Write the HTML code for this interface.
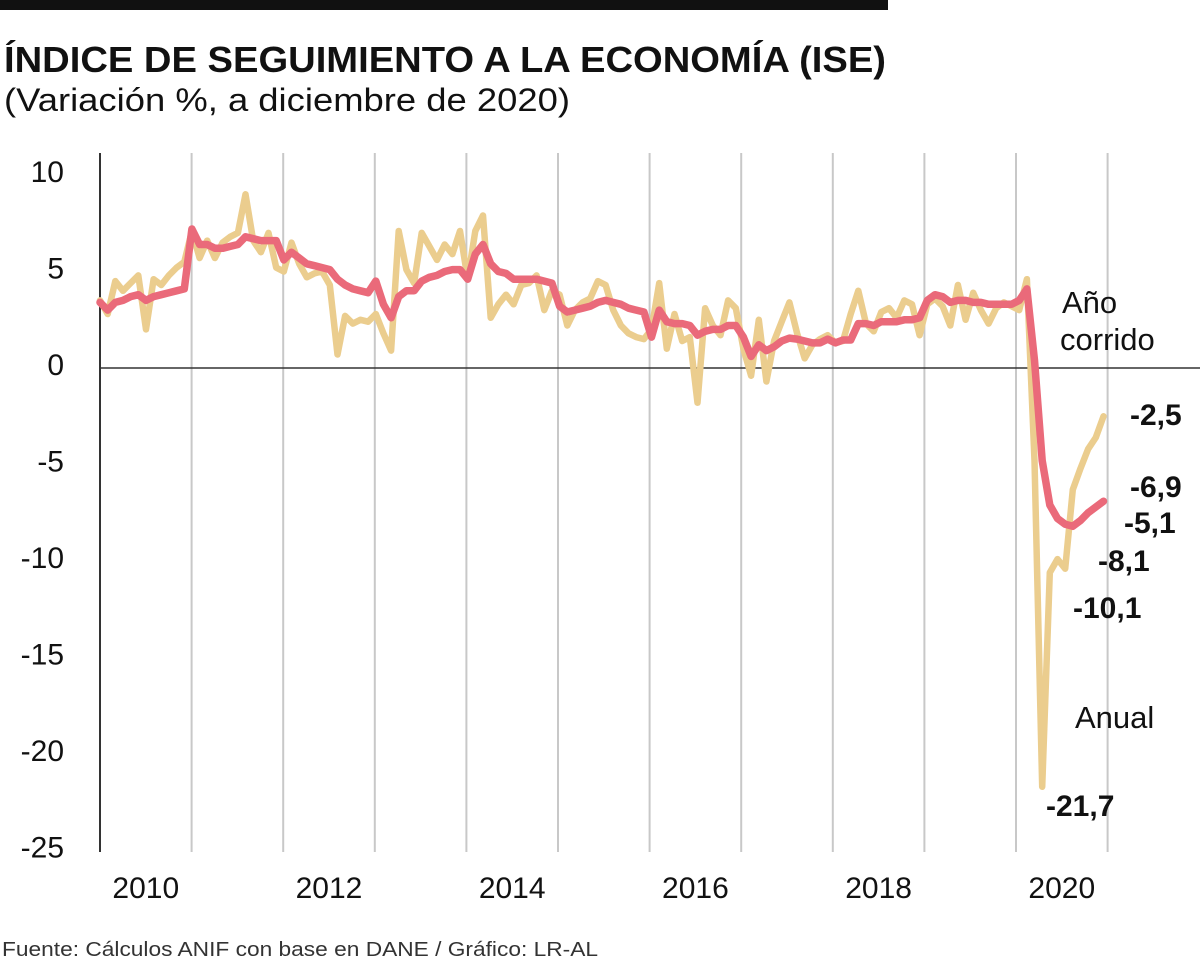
<!DOCTYPE html>
<html><head><meta charset="utf-8">
<style>
body{margin:0;background:#fff;width:1200px;height:965px;overflow:hidden;font-family:"Liberation Sans",sans-serif;}
</style></head>
<body>
<svg width="1200" height="965" viewBox="0 0 1200 965" xmlns="http://www.w3.org/2000/svg">
<rect x="0" y="0" width="888" height="10" fill="#111"/>
<text x="4" y="72" font-size="36" font-weight="bold" fill="#111" textLength="882" lengthAdjust="spacingAndGlyphs">ÍNDICE DE SEGUIMIENTO A LA ECONOMÍA (ISE)</text>
<text x="4" y="111" font-size="32" fill="#111" textLength="566" lengthAdjust="spacingAndGlyphs">(Variación %, a diciembre de 2020)</text>
<g id="grid"></g>
<g id="yticks"></g>
<g id="xticks"></g>
<g id="series"></g>
<g font-size="31" fill="#111">
<text x="1062" y="313">Año</text>
<text x="1060" y="350">corrido</text>
<text x="1075" y="728">Anual</text>
</g>
<g font-size="30" font-weight="bold" fill="#111">
<text x="1130" y="425">-2,5</text>
<text x="1130" y="497">-6,9</text>
<text x="1124" y="533">-5,1</text>
<text x="1098" y="571">-8,1</text>
<text x="1073" y="618">-10,1</text>
<text x="1046" y="816">-21,7</text>
</g>
<text x="2" y="956" font-size="20" fill="#333" textLength="596" lengthAdjust="spacingAndGlyphs">Fuente: Cálculos ANIF con base en DANE / Gráfico: LR-AL</text>
</svg>
<script>
const years = [2010,2011,2012,2013,2014,2015,2016,2017,2018,2019,2020];
const yTicks = [10,5,0,-5,-10,-15,-20,-25];
const xTickLabels = ["2010","2012","2014","2016","2018","2020"];
const anual = [
3.5,2.8,4.5,4.0,4.4,4.8,2.0,4.6,4.3,4.8,5.2,5.5,
7.1,5.7,6.6,5.7,6.5,6.8,7.0,9.0,6.6,6.0,7.0,5.2,
5.0,6.5,5.4,4.7,4.9,5.0,4.3,0.7,2.7,2.3,2.5,2.4,
2.8,1.8,0.9,7.1,5.1,4.4,7.0,6.3,5.6,6.4,5.9,7.1,
4.6,7.1,7.9,2.6,3.3,3.8,3.3,4.3,4.4,4.8,3.0,4.0,
3.8,2.2,3.0,3.4,3.6,4.5,4.3,3.0,2.2,1.8,1.6,1.5,
2.0,4.4,1.0,2.8,1.4,1.6,-1.8,3.1,2.2,1.7,3.5,3.1,
1.0,-0.4,2.5,-0.7,1.4,2.4,3.4,1.8,0.5,1.2,1.5,1.7,
1.3,1.4,2.8,4.0,2.3,1.9,2.9,3.1,2.6,3.5,3.3,1.7,
3.3,3.6,3.2,2.2,4.3,2.5,3.9,3.0,2.3,3.1,3.4,3.2,
3.0,4.6,-4.8,-21.7,-10.6,-9.9,-10.4,-6.3,-5.2,-4.2,-3.6,-2.5];
const anoCorrido = [
3.4,3.0,3.4,3.5,3.7,3.8,3.5,3.7,3.8,3.9,4.0,4.1,
7.2,6.4,6.4,6.2,6.2,6.3,6.4,6.8,6.7,6.6,6.6,6.6,
5.6,6.0,5.7,5.4,5.3,5.2,5.1,4.6,4.3,4.1,4.0,3.9,
4.5,3.3,2.6,3.7,4.0,4.0,4.5,4.7,4.8,5.0,5.1,5.1,
4.6,5.9,6.4,5.4,5.0,4.9,4.6,4.6,4.6,4.6,4.5,4.4,
3.2,2.9,3.0,3.1,3.2,3.4,3.5,3.4,3.3,3.1,3.0,2.9,
1.6,3.0,2.4,2.3,2.3,2.2,1.7,1.9,2.0,2.0,2.2,2.2,
1.6,0.6,1.2,0.9,1.1,1.4,1.55,1.5,1.4,1.3,1.3,1.5,
1.3,1.45,1.45,2.3,2.3,2.2,2.4,2.4,2.4,2.5,2.5,2.6,
3.5,3.8,3.7,3.4,3.5,3.5,3.4,3.4,3.3,3.3,3.3,3.3,
3.5,4.1,0.4,-4.8,-7.1,-7.8,-8.1,-8.2,-7.9,-7.5,-7.2,-6.9];

const NS="http://www.w3.org/2000/svg";
const X0=100, YW=91.6, MW=7.66;
function xYear(i){return X0+i*YW;}
function xMonth(i){return X0+i*MW;}
function y(v){return 368-v*19.3;}
function mk(tag,attrs,parent){const e=document.createElementNS(NS,tag);for(const k in attrs)e.setAttribute(k,attrs[k]);parent.appendChild(e);return e;}

const grid=document.getElementById('grid');
for(let i=1;i<=years.length;i++){
  const l=mk('line',{x1:xYear(i),x2:xYear(i),y1:153,y2:852,stroke:'#c8c8c8','stroke-width':2},grid);
  
  
}
const ax=mk('line',{x1:X0,x2:X0,y1:153,y2:852,stroke:'#333','stroke-width':2},grid);


const zl=mk('line',{x1:X0,x2:1200,y1:y(0),y2:y(0),stroke:'#333','stroke-width':1.5},grid);



const yt=document.getElementById('yticks');
yTicks.forEach(v=>{
  const t=mk('text',{x:64,y:y(v)+7,'font-size':30,'text-anchor':'end',fill:'#111'},yt);
  t.textContent=String(v);
  
  
});
const xt=document.getElementById('xticks');
xTickLabels.forEach(s=>{
  const i=parseInt(s)-years[0];
  const t=mk('text',{x:xYear(i)+YW/2,y:898,'font-size':30,'text-anchor':'middle',fill:'#111'},xt);
  t.textContent=s;
  
  
});
const sg=document.getElementById('series');
function line(data,color,w,name){
  const d=data.map((v,i)=>(i?'L':'M')+xMonth(i).toFixed(1)+','+y(v).toFixed(1)).join('');
  const p=mk('path',{d:d,fill:'none',stroke:color,'stroke-width':w,'stroke-linejoin':'round','stroke-linecap':'round'},sg);
  
  
}
line(anual,'#ebcd8e',6.5,'series-anual');
line(anoCorrido,'#ea6a7a',7.5,'series-ano-corrido');
</script>
</body></html>
